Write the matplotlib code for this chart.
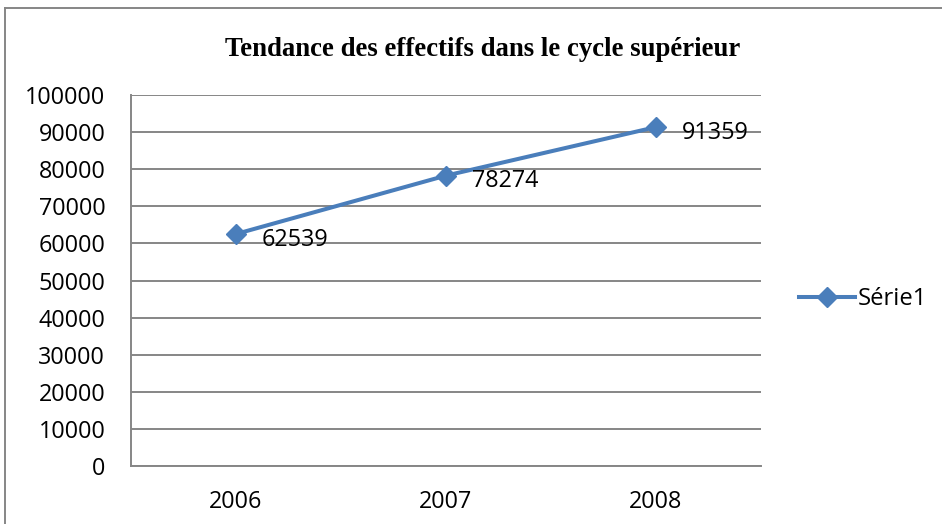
import matplotlib
matplotlib.use('Agg')
import matplotlib.pyplot as plt
from matplotlib.lines import Line2D

# data
years = ['2006', '2007', '2008']
effectifs = [62539, 78274, 91359]
y_ticks = list(range(0, 100001, 10000))
title = 'Tendance des effectifs dans le cycle supérieur'
series_name = 'Série1'

colour_line = '#4A7EBB'
colour_grid = '#868686'

plt.rcParams['font.family'] = ['Open Sans', 'DejaVu Sans']

fig = plt.figure(figsize=(9.42, 5.24), dpi=100)
ax = fig.add_axes([131/942, 58/524, 630/942, 371/524])

x = list(range(len(years)))
ax.plot(x, effectifs, color=colour_line, linewidth=2.9, marker='D',
        markersize=10.5, label=series_name, zorder=3)

# data labels to the right of the points
for xi, val in zip(x, effectifs):
    ax.annotate(str(val), (xi, val), xytext=(18.5, -4), textcoords='offset points',
                ha='left', va='center', fontsize=16.8, color='black')

ax.set_xlim(-0.5, len(years) - 0.5)
ax.set_ylim(0, 100000)
ax.set_xticks(x)
ax.set_xticklabels(years)
ax.set_yticks(y_ticks)
ax.set_yticklabels([str(v) for v in y_ticks])
ax.tick_params(axis='both', length=0, labelsize=16.8)
ax.tick_params(axis='x', pad=17)
ax.tick_params(axis='y', pad=18.5)
ax.yaxis.grid(True, color=colour_grid, linewidth=1.4)
ax.set_axisbelow(True)
for side in ['top', 'right']:
    ax.spines[side].set_visible(False)
for side in ['left', 'bottom']:
    ax.spines[side].set_color(colour_grid)
    ax.spines[side].set_linewidth(1.4)

fig.text(483/942, 1 - 49/524, title, ha='center', va='center',
         fontsize=19.3, fontweight='bold', family='Liberation Serif')

fig.legend(loc='center left', bbox_to_anchor=(799/942, 1 - 299/524), frameon=False,
           fontsize=17.2, handlelength=2.35, handletextpad=0.1, borderpad=0,
           borderaxespad=0)

# chart border (runs off the picture on the right and bottom)
fig.add_artist(Line2D([5/942, 5/942], [0, 1 - 8/524], transform=fig.transFigure,
                      color=colour_grid, linewidth=1.4))
fig.add_artist(Line2D([5/942, 1], [1 - 8/524, 1 - 8/524], transform=fig.transFigure,
                      color=colour_grid, linewidth=1.4))

fig.savefig('out.png', dpi=100)
